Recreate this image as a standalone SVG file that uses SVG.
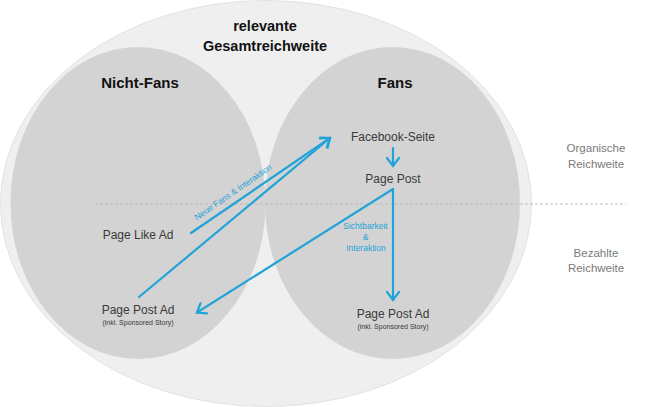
<svg xmlns="http://www.w3.org/2000/svg" width="660" height="407" viewBox="0 0 660 407">
<style>
.t{font-family:"Liberation Sans",Arial,sans-serif;fill:#3a3a3a;text-anchor:middle}
.b{font-weight:bold;fill:#111;font-size:15px}
.n{font-size:12px}
.s{font-size:7px}
.side{font-size:11.5px;fill:#7a7a7a}
.bl{fill:#22a3d8;font-size:8.5px}
.c{fill:none;stroke:#22a3d8;stroke-width:2.2;stroke-linecap:round}
</style>
<defs>
<marker id="ah" markerUnits="userSpaceOnUse" markerWidth="20" markerHeight="20" refX="10" refY="10" orient="auto" viewBox="0 0 20 20">
<polyline points="2,4 10,10 2,16" fill="none" stroke="#22a3d8" stroke-width="2.2" stroke-linecap="round" stroke-linejoin="miter"/>
</marker>
</defs>
<rect width="660" height="407" fill="#fff"/>
<g id="gesamt">
<ellipse cx="266" cy="203.5" rx="265.5" ry="203" fill="#efefef" stroke="#e2e2e2" stroke-width="1"/>
<text class="t b" x="265" y="31" style="font-size:14.5px">relevante</text>
<text class="t b" x="265" y="51" style="font-size:14.5px">Gesamtreichweite</text>
</g>
<g id="nichtfans">
<ellipse cx="138" cy="203" rx="127.5" ry="156" fill="#d3d3d3"/>
<text class="t b" x="140" y="88">Nicht-Fans</text>
</g>
<g id="fans">
<ellipse cx="392.5" cy="203" rx="127.5" ry="156" fill="#d3d3d3"/>
<text class="t b" x="395" y="88">Fans</text>
</g>
<line x1="95" y1="204" x2="626" y2="204" stroke="#b8b8b8" stroke-width="0.9" stroke-dasharray="3,2"/>
<g id="organisch"><text class="t side" x="596" y="152">Organische</text><text class="t side" x="596" y="168">Reichweite</text></g>
<g id="bezahlt"><text class="t side" x="596" y="257">Bezahlte</text><text class="t side" x="596" y="272">Reichweite</text></g>
<g id="facebookseite"><text class="t n" x="393" y="141">Facebook-Seite</text></g>
<g id="pagepost"><text class="t n" x="393" y="183">Page Post</text></g>
<g id="pagelikead"><text class="t n" x="138" y="239">Page Like Ad</text></g>
<g id="ppa-left"><text class="t n" x="138" y="314">Page Post Ad</text><text class="t s" x="138" y="325">(inkl. Sponsored Story)</text></g>
<g id="ppa-right"><text class="t n" x="393" y="318">Page Post Ad</text><text class="t s" x="393" y="329">(inkl. Sponsored Story)</text></g>
<g id="connectors">
<line class="c" x1="191" y1="233" x2="330" y2="138" marker-end="url(#ah)"/>
<line class="c" x1="139" y1="297" x2="330" y2="138" marker-end="url(#ah)"/>
<line class="c" x1="393" y1="148" x2="393" y2="166" marker-end="url(#ah)"/>
<line class="c" x1="393" y1="189" x2="197" y2="312.5" marker-end="url(#ah)"/>
<line class="c" x1="393" y1="189" x2="393" y2="300" marker-end="url(#ah)"/>
<text class="t bl" transform="translate(233,192) rotate(-34.5)" y="3">Neue Fans &amp; Interaktion</text>
<text class="t bl" x="365.5" y="229">Sichtbarkeit</text>
<text class="t bl" x="365.5" y="240">&amp;</text>
<text class="t bl" x="366" y="250.5">Interaktion</text>
</g>
</svg>
